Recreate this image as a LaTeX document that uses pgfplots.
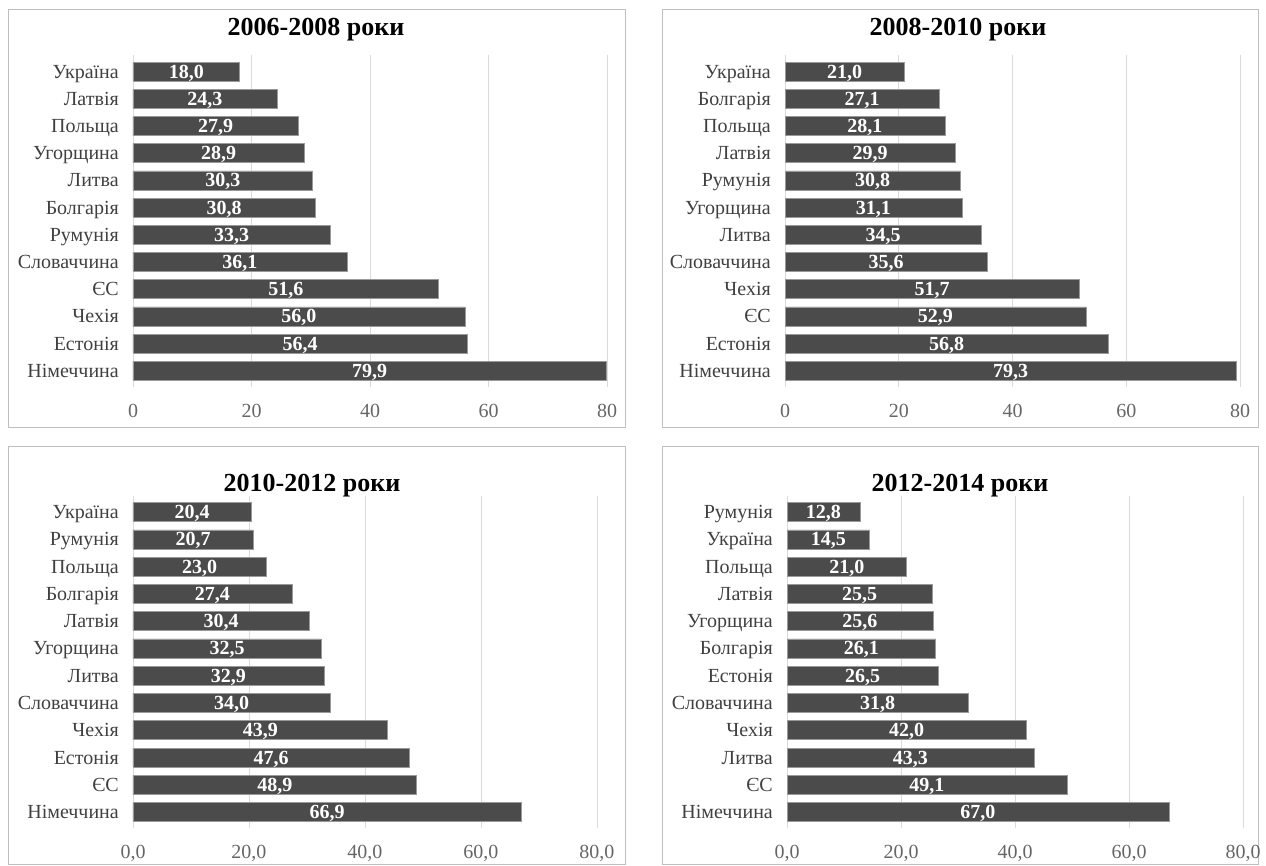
\documentclass[border=0pt]{standalone}
\usepackage{fontspec}
\setmainfont{Liberation Serif}
\usepackage{pgfplots}
\usepackage{pgfplotstable}
\pgfplotsset{compat=1.18}

\definecolor{barcol}{HTML}{4B4B4B}
\definecolor{gridcol}{HTML}{DADADA}
\definecolor{framecol}{HTML}{BFBFBF}
\definecolor{labcol}{HTML}{404040}

% one table per period: row index (top to bottom), country, value
\pgfplotstableread{
idx name v
0 Україна 18.0
1 Латвія 24.3
2 Польща 27.9
3 Угорщина 28.9
4 Литва 30.3
5 Болгарія 30.8
6 Румунія 33.3
7 Словаччина 36.1
8 ЄС 51.6
9 Чехія 56.0
10 Естонія 56.4
11 Німеччина 79.9
}\tabA
\pgfplotstableread{
idx name v
0 Україна 21.0
1 Болгарія 27.1
2 Польща 28.1
3 Латвія 29.9
4 Румунія 30.8
5 Угорщина 31.1
6 Литва 34.5
7 Словаччина 35.6
8 Чехія 51.7
9 ЄС 52.9
10 Естонія 56.8
11 Німеччина 79.3
}\tabB
\pgfplotstableread{
idx name v
0 Україна 20.4
1 Румунія 20.7
2 Польща 23.0
3 Болгарія 27.4
4 Латвія 30.4
5 Угорщина 32.5
6 Литва 32.9
7 Словаччина 34.0
8 Чехія 43.9
9 Естонія 47.6
10 ЄС 48.9
11 Німеччина 66.9
}\tabC
\pgfplotstableread{
idx name v
0 Румунія 12.8
1 Україна 14.5
2 Польща 21.0
3 Латвія 25.5
4 Угорщина 25.6
5 Болгарія 26.1
6 Естонія 26.5
7 Словаччина 31.8
8 Чехія 42.0
9 Литва 43.3
10 ЄС 49.1
11 Німеччина 67.0
}\tabD

\pgfplotsset{
  panel/.style={
    anchor=south west, scale only axis,
    xmin=0, xmax=80, ymin=-0.6, ymax=11.6, y dir=reverse,
    xtick={0,20,40,60,80}, ytick={0,...,11},
    xmajorgrids, grid style={draw=gridcol, line width=0.9pt},
    axis line style={draw=none}, major tick length=0pt,
    /pgf/number format/assume math mode=true,
    tick label style={font=\fontsize{20}{22}\selectfont, text=labcol},
    yticklabel style={anchor=base east, inner sep=0pt, xshift=-14pt, yshift=-6.5pt},
    xticklabel style={anchor=base, inner sep=0pt, yshift=-30pt, text=black!60},
  },
  onedec/.style={xticklabel style={/pgf/number format/.cd, fixed, fixed zerofill, precision=1, use comma}},
  bars/.style={
    xbar, bar width=19pt, draw=black!40, line width=0.6pt, fill=barcol,
    point meta=x,
    nodes near coords={\pgfmathprintnumber[fixed, fixed zerofill, precision=1, use comma, assume math mode=true]{\pgfplotspointmeta}},
    visualization depends on={rawx \as \rawx},
    every node near coord/.append style={anchor=base, inner sep=0pt, text=white,
      font=\fontsize{20}{22}\selectfont\bfseries,
      shift={(axis direction cs:-\rawx/2,0)}, yshift=-6.5pt},
  },
}

\begin{document}
\begin{tikzpicture}
\useasboundingbox (0pt,0pt) rectangle (1266pt,865pt);

% frames and titles
\draw[framecol, line width=1pt] (8pt,855pt) rectangle (625pt,437pt);
\draw[framecol, line width=1pt] (662pt,855pt) rectangle (1258pt,437pt);
\draw[framecol, line width=1pt] (8pt,418pt) rectangle (625pt,0.5pt);
\draw[framecol, line width=1pt] (662pt,418pt) rectangle (1258pt,0.5pt);
\node[font=\fontsize{26}{30}\selectfont\bfseries] at (316pt,835pt) {2006-2008 роки};
\node[font=\fontsize{26}{30}\selectfont\bfseries] at (958pt,835pt) {2008-2010 роки};
\node[font=\fontsize{26}{30}\selectfont\bfseries] at (312pt,379pt) {2010-2012 роки};
\node[font=\fontsize{26}{30}\selectfont\bfseries] at (960pt,379pt) {2012-2014 роки};

\begin{axis}[panel, at={(133pt,478pt)}, width=474pt, height=331.6pt,
  yticklabels from table={\tabA}{name}]
\addplot[bars] table[x=v, y=idx] {\tabA};
\end{axis}

\begin{axis}[panel, at={(785pt,478pt)}, width=455pt, height=331.6pt,
  yticklabels from table={\tabB}{name}]
\addplot[bars] table[x=v, y=idx] {\tabB};
\end{axis}

\begin{axis}[panel, onedec, at={(133pt,36.6pt)}, width=464pt, height=332.7pt,
  yticklabels from table={\tabC}{name}]
\addplot[bars] table[x=v, y=idx] {\tabC};
\end{axis}

\begin{axis}[panel, onedec, at={(787pt,36.6pt)}, width=456pt, height=332.7pt,
  yticklabels from table={\tabD}{name}]
\addplot[bars] table[x=v, y=idx] {\tabD};
\end{axis}
\end{tikzpicture}
\end{document}
